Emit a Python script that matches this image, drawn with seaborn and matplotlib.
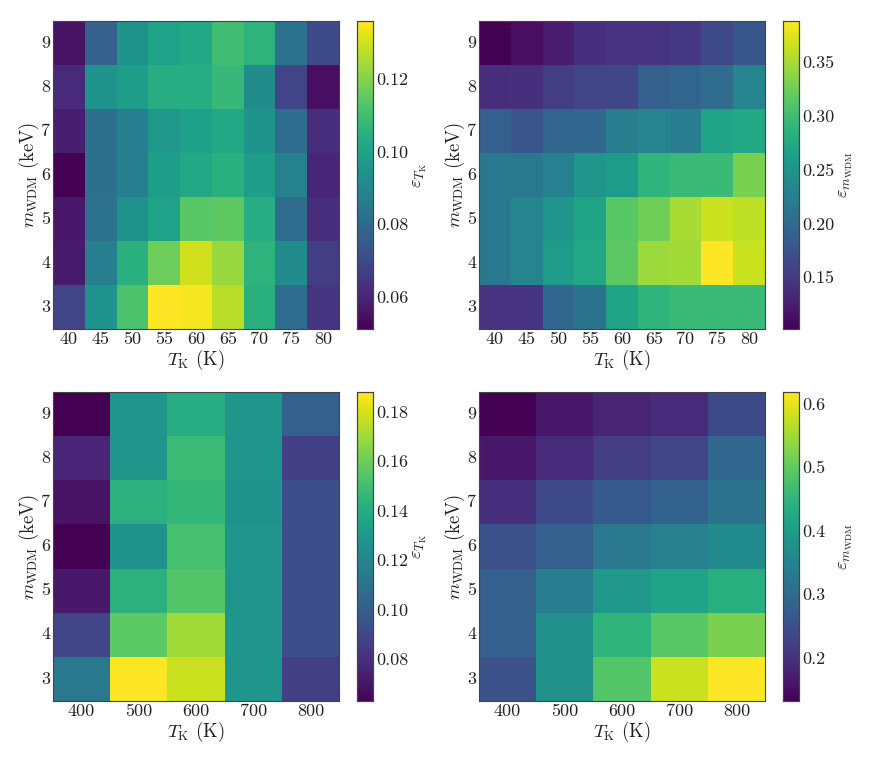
import numpy as np
import pandas as pd
import matplotlib
matplotlib.use("Agg")
import matplotlib.pyplot as plt
import seaborn as sns

# ---------------- data ----------------
m_wdm = [3, 4, 5, 6, 7, 8, 9]
tk_low = [40, 45, 50, 55, 60, 65, 70, 75, 80]
tk_high = [400, 500, 600, 700, 800]

# rows ordered m = 3 .. 9
eps_tk_low = [
    [0.068, 0.095, 0.112, 0.136, 0.135, 0.127, 0.105, 0.081, 0.064],
    [0.057, 0.087, 0.105, 0.117, 0.130, 0.123, 0.106, 0.092, 0.066],
    [0.056, 0.083, 0.094, 0.100, 0.114, 0.115, 0.104, 0.081, 0.062],
    [0.051, 0.082, 0.087, 0.098, 0.102, 0.105, 0.098, 0.088, 0.060],
    [0.058, 0.082, 0.087, 0.096, 0.099, 0.102, 0.095, 0.081, 0.062],
    [0.061, 0.095, 0.098, 0.104, 0.104, 0.108, 0.092, 0.068, 0.054],
    [0.055, 0.077, 0.094, 0.100, 0.102, 0.110, 0.106, 0.083, 0.070],
]
eps_m_low = [
    [0.145, 0.145, 0.196, 0.211, 0.268, 0.288, 0.296, 0.296, 0.296],
    [0.216, 0.231, 0.259, 0.274, 0.316, 0.345, 0.348, 0.388, 0.365],
    [0.216, 0.231, 0.251, 0.268, 0.314, 0.325, 0.351, 0.365, 0.359],
    [0.216, 0.216, 0.225, 0.251, 0.259, 0.288, 0.296, 0.296, 0.331],
    [0.188, 0.176, 0.194, 0.196, 0.222, 0.231, 0.222, 0.268, 0.274],
    [0.139, 0.142, 0.153, 0.159, 0.162, 0.188, 0.194, 0.202, 0.231],
    [0.102, 0.113, 0.125, 0.142, 0.145, 0.145, 0.148, 0.165, 0.179],
]
eps_tk_high = [
    [0.113, 0.188, 0.178, 0.128, 0.086],
    [0.088, 0.156, 0.170, 0.128, 0.093],
    [0.071, 0.143, 0.154, 0.128, 0.093],
    [0.063, 0.126, 0.151, 0.128, 0.093],
    [0.069, 0.143, 0.146, 0.126, 0.093],
    [0.076, 0.128, 0.148, 0.128, 0.086],
    [0.063, 0.128, 0.141, 0.128, 0.101],
]
eps_m_high = [
    [0.254, 0.375, 0.487, 0.579, 0.618],
    [0.278, 0.375, 0.448, 0.492, 0.521],
    [0.278, 0.336, 0.390, 0.414, 0.438],
    [0.254, 0.278, 0.326, 0.341, 0.365],
    [0.200, 0.239, 0.268, 0.283, 0.317],
    [0.161, 0.190, 0.219, 0.229, 0.292],
    [0.132, 0.161, 0.181, 0.190, 0.239],
]

# ---------------- style ----------------
sns.set_theme(style="white")
plt.rcParams["font.family"] = ["cmr10", "DejaVu Serif"]
plt.rcParams["mathtext.fontset"] = "cm"
plt.rcParams["axes.formatter.use_mathtext"] = True
plt.rcParams["axes.unicode_minus"] = False

W, H = 872, 763
fig = plt.figure(figsize=(W / 100, H / 100), dpi=100)


def px_axes(x0, y0, x1, y1):
    return fig.add_axes([x0 / W, 1 - y1 / H, (x1 - x0) / W, (y1 - y0) / H])


panels = [
    (eps_tk_low, tk_low, r"$\varepsilon_{T_{\rm K}}$", (53, 21, 339, 329), (357, 373),
     [0.06, 0.08, 0.10, 0.12], "{:.2f}"),
    (eps_m_low, tk_low, r"$\varepsilon_{m_{\rm WDM}}$", (479, 21, 765, 329), (783, 799),
     [0.15, 0.20, 0.25, 0.30, 0.35], "{:.2f}"),
    (eps_tk_high, tk_high, r"$\varepsilon_{T_{\rm K}}$", (53, 392, 339, 701), (357, 373),
     [0.08, 0.10, 0.12, 0.14, 0.16, 0.18], "{:.2f}"),
    (eps_m_high, tk_high, r"$\varepsilon_{m_{\rm WDM}}$", (479, 392, 765, 701), (783, 799),
     [0.2, 0.3, 0.4, 0.5, 0.6], "{:.1f}"),
]

frame_col = "#444444"
txt_col = "#222222"
FS = 13
for vals, tks, clabel, (x0, y0, x1, y1), (cx0, cx1), cticks, fmt in panels:
    ax = px_axes(x0, y0, x1, y1)
    cax = px_axes(cx0, y0, cx1, y1)
    df = pd.DataFrame(vals, index=m_wdm, columns=tks)
    df = df.iloc[::-1]
    sns.heatmap(df, ax=ax, cbar_ax=cax, cmap="viridis", square=False,
                cbar_kws={"ticks": cticks})
    for sp in ax.spines.values():
        sp.set_visible(True)
        sp.set_color(frame_col)
        sp.set_linewidth(0.8)
    ax.tick_params(axis="both", direction="in", length=3, width=0.8, color=txt_col,
                   labelsize=FS, labelcolor=txt_col, bottom=True, left=True, pad=2)
    ax.set_yticklabels([str(v) for v in df.index], rotation=0)
    ax.set_xticklabels([str(v) for v in df.columns], rotation=0)
    ax.set_xlabel(r"$T_{\rm K}$ (K)", fontsize=FS + 0.5, color=txt_col)
    ax.set_ylabel(r"$m_{\rm WDM}$ (keV)", fontsize=FS + 0.5, color=txt_col)
    aw, ah = x1 - x0, y1 - y0
    ax.xaxis.set_label_coords(0.5, -31 / ah)
    ax.yaxis.set_label_coords(-24.5 / aw, 0.5)
    ax.xaxis.label.set_va("center")
    ax.yaxis.label.set_va("center")
    # colorbar
    cax.set_frame_on(True)
    for sp in cax.spines.values():
        sp.set_visible(True)
        sp.set_color(frame_col)
        sp.set_linewidth(0.8)
    cax.tick_params(axis="y", direction="in", length=3, width=0.8, color=txt_col,
                    labelsize=FS, labelcolor=txt_col, right=True, pad=2)
    cax.set_yticklabels([fmt.format(t) for t in cticks])
    cax.set_ylabel(clabel, fontsize=FS + 0.5, color=txt_col)
    cax.yaxis.set_label_coords(3.95, 0.5)
    cax.yaxis.label.set_va("center")

fig.savefig("out.png", dpi=100)
